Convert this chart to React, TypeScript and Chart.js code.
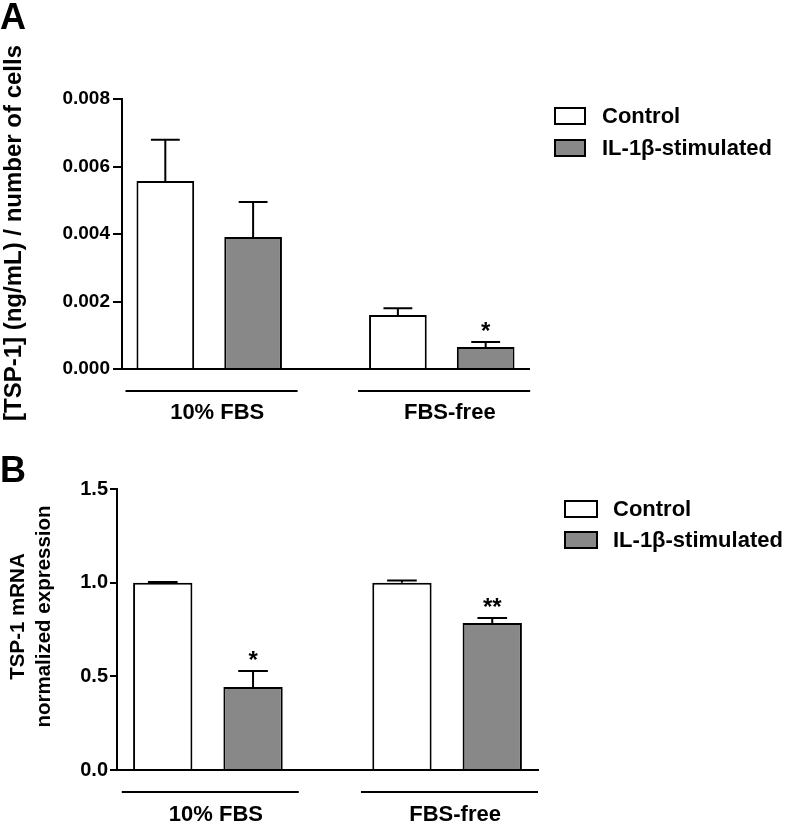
import React, { useEffect, useRef } from 'react';
import { Chart, registerables } from 'chart.js';

Chart.register(...registerables);

const FONT = '"Liberation Sans", Arial, Helvetica, sans-serif';
Chart.defaults.font.family = FONT;
Chart.defaults.color = '#000';

// ---- data ----
const groups = ['10% FBS', 'FBS-free'];
const seriesNames = ['Control', 'IL-1β-stimulated'];

// Panel A: [TSP-1] (ng/mL) / number of cells
const aControl = [0.00557, 0.0016];
const aControlErr = [0.00122, 0.0002];
const aControlMarks = ['', ''];
const aStim = [0.00391, 0.00065];
const aStimErr = [0.00104, 0.00015];
const aStimMarks = ['', '*'];
const aTicks = [0, 0.002, 0.004, 0.006, 0.008];
const aTitle = ['[TSP-1] (ng/mL) / number of cells'];

// Panel B: TSP-1 mRNA normalized expression
const bControl = [1.0, 1.0];
const bControlErr = [0.003, 0.012];
const bControlMarks = ['', ''];
const bStim = [0.443, 0.785];
const bStimErr = [0.085, 0.026];
const bStimMarks = ['*', '**'];
const bTicks = [0, 0.5, 1.0, 1.5];
const bTitle = ['TSP-1 mRNA', 'normalized expression'];

const WHITE = '#ffffff';
const GRAY = '#888888';

type PanelParams = {
  letter: string;
  letterY: number;
  control: number[];
  controlErr: number[];
  controlMarks: string[];
  stim: number[];
  stimErr: number[];
  stimMarks: string[];
  ticks: number[];
  decimals: number;
  yTitle: string[];
  titleSize: number;
  titleX: number;
  titleLineGap: number;
  titleShift: number;
  tickSize: number;
  tickLen: number;
  tickPad: number;
  xMin: number;
  xMax: number;
  axisLeft: number;
  areaTop: number;
  padRight: number;
  xAxisH: number;
  labelPad: number;
  legendDx: number;
  legendDy: number;
  boxW: number;
  boxH: number;
  rowGap: number;
  textGap: number;
  legendSize: number;
};

function decorPlugin(p: PanelParams) {
  return {
    id: 'decor' + p.letter,
    afterDatasetsDraw(chart: any) {
      const ctx = chart.ctx;
      const ys = chart.scales.y;
      ctx.save();
      ctx.strokeStyle = '#000';
      ctx.lineWidth = 2;
      chart.data.datasets.forEach((ds: any, di: number) => {
        const meta = chart.getDatasetMeta(di);
        meta.data.forEach((el: any, i: number) => {
          const pt = ds.data[i];
          const err = ds.errors[i];
          const yTop = ys.getPixelForValue(pt.y + err);
          const half = el.width / 4;
          ctx.beginPath();
          ctx.moveTo(el.x, el.y);
          ctx.lineTo(el.x, yTop);
          ctx.moveTo(el.x - half, yTop);
          ctx.lineTo(el.x + half, yTop);
          ctx.stroke();
          const mark = ds.marks[i];
          if (mark) {
            ctx.fillStyle = '#000';
            ctx.font = `bold 24px ${FONT}`;
            ctx.textAlign = 'center';
            ctx.textBaseline = 'alphabetic';
            ctx.fillText(mark, el.x, yTop - 3);
          }
        });
      });
      ctx.restore();
    },
    afterDraw(chart: any) {
      const ctx = chart.ctx;
      const xs = chart.scales.x;
      const area = chart.chartArea;
      ctx.save();
      // group underlines
      ctx.strokeStyle = '#000';
      ctx.lineWidth = 2;
      groups.forEach((_g, i) => {
        const x1 = xs.getPixelForValue(i - 0.36);
        const x2 = xs.getPixelForValue(i + 0.38);
        const y = area.bottom + 22;
        ctx.beginPath();
        ctx.moveTo(x1, y);
        ctx.lineTo(x2, y);
        ctx.stroke();
      });
      // y axis title (rotated)
      const cy = (area.top + area.bottom) / 2 + p.titleShift;
      ctx.fillStyle = '#000';
      ctx.font = `bold ${p.titleSize}px ${FONT}`;
      ctx.textAlign = 'center';
      ctx.textBaseline = 'middle';
      p.yTitle.forEach((line, li) => {
        ctx.save();
        ctx.translate(p.titleX + li * p.titleLineGap, cy);
        ctx.rotate(-Math.PI / 2);
        ctx.fillText(line, 0, 0);
        ctx.restore();
      });
      // legend
      chart.data.datasets.forEach((ds: any, di: number) => {
        const bx = area.right + p.legendDx;
        const by = area.top + p.legendDy + di * p.rowGap;
        ctx.fillStyle = ds.backgroundColor;
        ctx.fillRect(bx, by, p.boxW, p.boxH);
        ctx.strokeStyle = '#000';
        ctx.lineWidth = 2;
        ctx.strokeRect(bx, by, p.boxW, p.boxH);
        ctx.fillStyle = '#000';
        ctx.font = `bold ${p.legendSize}px ${FONT}`;
        ctx.textAlign = 'left';
        ctx.textBaseline = 'middle';
        ctx.fillText(ds.label, bx + p.boxW + p.textGap, by + p.boxH / 2 + 1);
      });
      // panel letter
      ctx.fillStyle = '#000';
      ctx.font = `bold 36px ${FONT}`;
      ctx.textAlign = 'left';
      ctx.textBaseline = 'alphabetic';
      ctx.fillText(p.letter, 0, p.letterY);
      ctx.restore();
    },
  };
}

function buildConfig(p: PanelParams): any {
  return {
    type: 'bar',
    data: {
      datasets: [
        {
          label: seriesNames[0],
          data: p.control.map((v, i) => ({ x: i, y: v })),
          errors: p.controlErr,
          marks: p.controlMarks,
          backgroundColor: WHITE,
          borderColor: '#000',
          borderWidth: 2,
          categoryPercentage: 0.755,
          barPercentage: 0.657,
        },
        {
          label: seriesNames[1],
          data: p.stim.map((v, i) => ({ x: i, y: v })),
          errors: p.stimErr,
          marks: p.stimMarks,
          backgroundColor: GRAY,
          borderColor: '#000',
          borderWidth: 2,
          categoryPercentage: 0.755,
          barPercentage: 0.657,
        },
      ],
    },
    options: {
      responsive: false,
      animation: false,
      devicePixelRatio: 1,
      layout: { padding: { left: 0, top: p.areaTop, right: p.padRight, bottom: 0 } },
      plugins: {
        legend: { display: false },
        tooltip: { enabled: false },
      },
      scales: {
        x: {
          type: 'linear',
          min: p.xMin,
          max: p.xMax,
          offset: false,
          afterBuildTicks: (s: any) => {
            s.ticks = groups.map((_g, i) => ({ value: i }));
          },
          afterFit: (s: any) => {
            s.height = p.xAxisH;
          },
          grid: { display: false, drawTicks: false },
          border: { display: true, color: '#000', width: 2 },
          ticks: {
            autoSkip: false,
            maxRotation: 0,
            minRotation: 0,
            labelOffset: 8,
            padding: p.labelPad,
            color: '#000',
            font: { size: 22, weight: 'bold' },
            callback: (v: any) => groups[Math.round(Number(v))] ?? '',
          },
        },
        y: {
          type: 'linear',
          min: p.ticks[0],
          max: p.ticks[p.ticks.length - 1],
          afterBuildTicks: (s: any) => {
            s.ticks = p.ticks.map((v) => ({ value: v }));
          },
          afterFit: (s: any) => {
            s.width = p.axisLeft;
          },
          grid: {
            display: true,
            drawOnChartArea: false,
            drawTicks: true,
            tickLength: p.tickLen,
            color: '#000',
            lineWidth: 2,
          },
          border: { display: true, color: '#000', width: 2 },
          ticks: {
            padding: p.tickPad,
            color: '#000',
            font: { size: p.tickSize, weight: 'bold' },
            callback: (v: any) => Number(v).toFixed(p.decimals),
          },
          title: { display: false },
        },
      },
    },
    plugins: [decorPlugin(p)],
  };
}

export default function App() {
  const refA = useRef<HTMLCanvasElement>(null);
  const refB = useRef<HTMLCanvasElement>(null);

  useEffect(() => {
    const a = new Chart(
      refA.current as HTMLCanvasElement,
      buildConfig({
        letter: 'A',
        letterY: 29,
        control: aControl,
        controlErr: aControlErr,
        controlMarks: aControlMarks,
        stim: aStim,
        stimErr: aStimErr,
        stimMarks: aStimMarks,
        ticks: aTicks,
        decimals: 3,
        yTitle: aTitle,
        titleSize: 24,
        titleX: 14,
        titleLineGap: 0,
        titleShift: -1,
        tickSize: 19,
        tickLen: 9,
        tickPad: 3,
        xMin: -0.375,
        xMax: 1.375,
        axisLeft: 122,
        areaTop: 99,
        padRight: 790 - 529,
        xAxisH: 430 - 369,
        labelPad: 31,
        legendDx: 26,
        legendDy: 9,
        boxW: 30,
        boxH: 16,
        rowGap: 32,
        textGap: 17,
        legendSize: 22,
      })
    );
    const b = new Chart(
      refB.current as HTMLCanvasElement,
      buildConfig({
        letter: 'B',
        letterY: 52,
        control: bControl,
        controlErr: bControlErr,
        controlMarks: bControlMarks,
        stim: bStim,
        stimErr: bStimErr,
        stimMarks: bStimMarks,
        ticks: bTicks,
        decimals: 1,
        yTitle: bTitle,
        titleSize: 20.5,
        titleX: 18,
        titleLineGap: 26,
        titleShift: -13,
        tickSize: 20,
        tickLen: 7,
        tickPad: 2,
        xMin: -0.38,
        xMax: 1.38,
        axisLeft: 117,
        areaTop: 59,
        padRight: 790 - 538,
        xAxisH: 395 - 340,
        labelPad: 32,
        legendDx: 27,
        legendDy: 12,
        boxW: 32,
        boxH: 16,
        rowGap: 31,
        textGap: 16,
        legendSize: 22,
      })
    );
    return () => {
      a.destroy();
      b.destroy();
    };
  }, []);

  return (
    <div style={{ position: 'absolute', left: 0, top: 0, width: 790, height: 825, background: '#fff' }}>
      <canvas
        ref={refA}
        width={790}
        height={430}
        style={{ position: 'absolute', left: 0, top: 0, width: 790, height: 430 }}
      />
      <canvas
        ref={refB}
        width={790}
        height={395}
        style={{ position: 'absolute', left: 0, top: 430, width: 790, height: 395 }}
      />
    </div>
  );
}
